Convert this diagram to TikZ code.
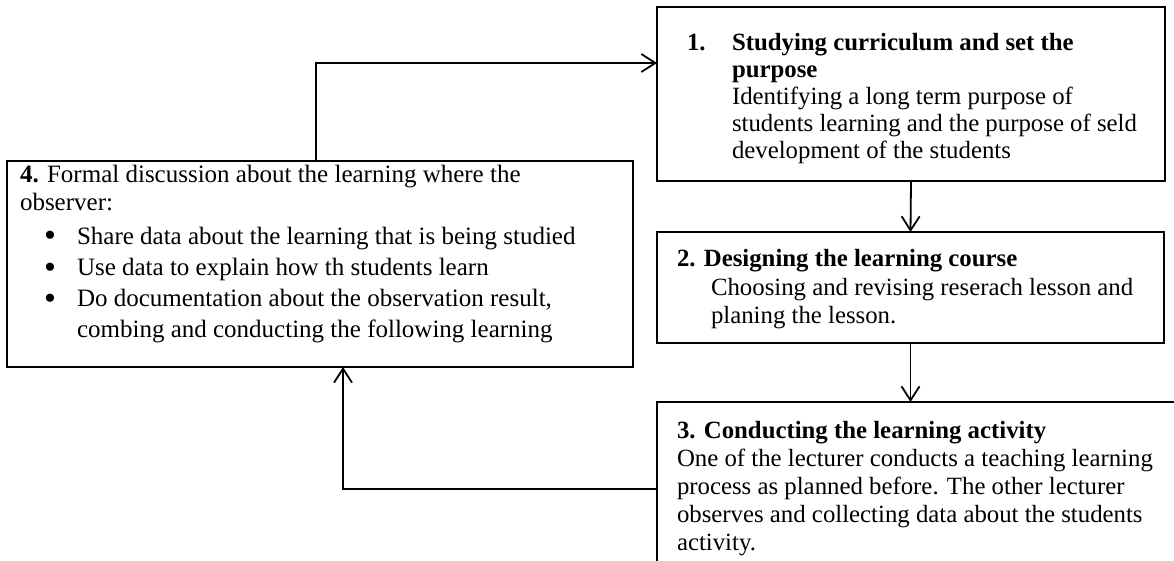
\documentclass[tikz,border=0pt]{standalone}
\usepackage{fontspec}
\setmainfont{Liberation Serif}
\usetikzlibrary{arrows.meta}
\begin{document}
\begin{tikzpicture}[x=1pt,y=-1pt,
  box/.style={draw, line width=1.8pt, anchor=north west, inner sep=0pt, outer sep=0pt},
  txt/.style={anchor=base west, align=left, inner sep=0pt, outer sep=0pt},
  bul/.style={anchor=base, inner sep=0pt, outer sep=0pt, font=\fontsize{34}{34}\selectfont},
  flow/.style={line width=1.8pt, -{Straight Barb[length=14pt,width=18pt]}}]
\useasboundingbox (0,0) rectangle (1174,561);
% boxes
\node[box, minimum width=508pt, minimum height=174pt] (b1) at (657,7) {};
\node[box, minimum width=507pt, minimum height=111pt] (b2) at (657,232) {};
\node[box, minimum width=540pt, minimum height=220pt] (b3) at (657,402) {};
\node[box, minimum width=626pt, minimum height=206pt] (b4) at (7,161) {};
% box 1 text (base anchor = last line)
\node[txt, font=\fontsize{24.8}{27}\selectfont\bfseries] (n1) at (687,51) {1.};
\node[txt, font=\fontsize{24.8}{27}\selectfont] (t1) at (732,159) {\textbf{Studying curriculum and set the}\\\textbf{purpose}\\Identifying a long term purpose of\\students learning and the purpose of seld\\development of the students};
% box 2 text
\node[txt, font=\fontsize{24.8}{28.5}\selectfont\bfseries] (t2a) at (677,266) {2. Designing the learning course};
\node[txt, font=\fontsize{24.8}{28.5}\selectfont] (t2b) at (711,323.5) {Choosing and revising reserach lesson and\\planing the lesson.};
% box 3 text
\node[txt, font=\fontsize{24.8}{28}\selectfont] (t3) at (677,550) {\textbf{3. Conducting the learning activity}\\One of the lecturer conducts a teaching learning\\process as planned before. The other lecturer\\observes and collecting data about the students\\activity.};
% box 4 text
\node[txt, font=\fontsize{25}{28}\selectfont] (t4) at (20,211) {\textbf{4.} Formal discussion about the learning where the\\observer:};
\node[bul] (d1) at (50,247) {\textbullet};
\node[bul] (d2) at (50,278) {\textbullet};
\node[bul] (d3) at (50,309) {\textbullet};
\node[txt, font=\fontsize{25}{31}\selectfont] (t4b) at (77,337) {Share data about the learning that is being studied\\Use data to explain how th students learn\\Do documentation about the observation result,\\combing and conducting the following learning};
% connectors
\coordinate (c41) at (316,63);
\coordinate (c34) at (343,489);
\draw[flow] (b4.north -| c41) |- (b1.west |- c41);
\draw[flow] (b1.south) -- (b2.north);
\draw[flow] (b2.south) -- (b2.south |- b3.north);
\draw[flow] (b3.west |- c34) -| (b4.south -| c34);
\end{tikzpicture}
\end{document}
